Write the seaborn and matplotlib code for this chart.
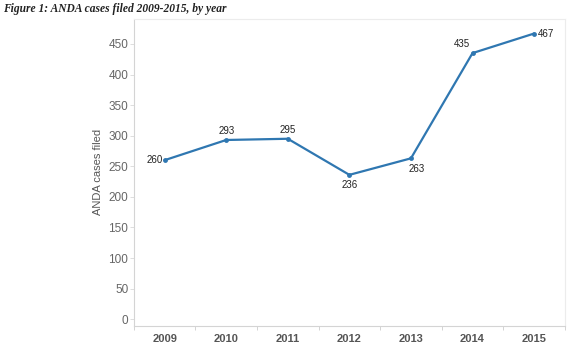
import matplotlib
matplotlib.use("Agg")
import matplotlib.pyplot as plt
import seaborn as sns
import pandas as pd
from matplotlib.ticker import FixedLocator

years = ["2009", "2010", "2011", "2012", "2013", "2014", "2015"]
cases = [260, 293, 295, 236, 263, 435, 467]
y_ticks = [0, 50, 100, 150, 200, 250, 300, 350, 400, 450]

# label placement per point: (dx points, dy points, ha, va)
label_pos = [
    (-1, 0, "right", "center"),
    (0, 3, "center", "bottom"),
    (0, 3, "center", "bottom"),
    (0, -4, "center", "top"),
    (4, -4, "center", "top"),
    (-2, 3, "right", "bottom"),
    (3, 0, "left", "center"),
]

sns.set_theme(style="white")
plt.rcParams["font.family"] = ["Liberation Sans", "DejaVu Sans"]

df = pd.DataFrame({"year": years, "cases": cases})

fig = plt.figure(figsize=(5.77, 3.49), dpi=100)
ax = fig.add_axes([0.232, 0.066, 0.747, 0.880])

line_color = "#2f77b1"
sns.lineplot(data=df, x="year", y="cases", ax=ax, color=line_color,
             linewidth=1.6, marker="o", markersize=3.5,
             markeredgewidth=0, sort=False)

for i, (yr, v) in enumerate(zip(years, cases)):
    dx, dy, ha, va = label_pos[i]
    ax.annotate(str(v), (i, v), xytext=(dx, dy), textcoords="offset points",
                ha=ha, va=va, fontsize=7, color="#222222")

ax.set_xlim(-0.5, len(years) - 0.5)
ax.set_ylim(-11, 491)
ax.set_yticks(y_ticks)
ax.tick_params(axis="y", length=3, width=0.6, color="#d8d8d8", left=True,
               labelsize=8.5, labelcolor="#666666", pad=1)
ax.tick_params(axis="x", length=0, labelsize=8, labelcolor="#555555", pad=6)
for lbl in ax.get_xticklabels():
    lbl.set_fontweight("bold")

# small separators between year bands
ax.xaxis.set_minor_locator(FixedLocator([i - 0.5 for i in range(len(years) + 1)]))
ax.tick_params(axis="x", which="minor", length=3, width=0.6, color="#cccccc",
               direction="out", bottom=True)

ax.set_xlabel("")
ax.set_ylabel("ANDA cases filed", fontsize=8, color="#555555", labelpad=4)

for side in ["left", "bottom"]:
    ax.spines[side].set_color("#d4d4d4")
    ax.spines[side].set_linewidth(0.8)
for side in ["top", "right"]:
    ax.spines[side].set_color("#ececec")
    ax.spines[side].set_linewidth(0.8)
ax.grid(False)

fig.text(0.006, 0.974, "Figure 1: ANDA cases filed 2009-2015, by year",
         fontsize=8.3, fontstyle="italic", fontweight="bold",
         family="Liberation Serif", color="#222222", ha="left", va="center")

fig.savefig("out.png", dpi=100)
